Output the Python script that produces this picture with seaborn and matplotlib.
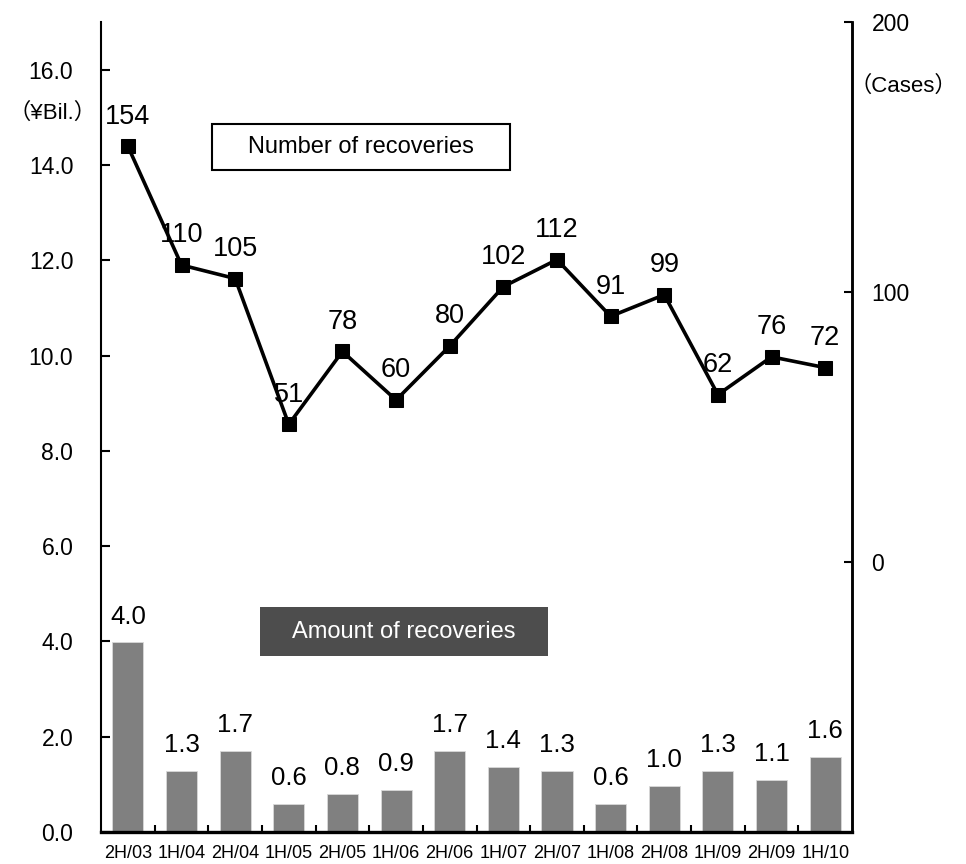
import numpy as np
import pandas as pd
import matplotlib
matplotlib.use("Agg")
import matplotlib.pyplot as plt
from matplotlib import font_manager
from matplotlib.patches import Rectangle
import seaborn as sns

# half-year periods
periods = ["2H/03", "1H/04", "2H/04", "1H/05", "2H/05", "1H/06", "2H/06",
           "1H/07", "2H/07", "1H/08", "2H/08", "1H/09", "2H/09", "1H/10"]
# amount of recoveries (¥Bil.)
amount = [3.98, 1.29, 1.70, 0.59, 0.80, 0.88, 1.70, 1.37, 1.29, 0.59, 0.96, 1.29, 1.09, 1.57]
# number of recoveries (cases)
cases = [154, 110, 105, 51, 78, 60, 80, 102, 112, 91, 99, 62, 76, 72]

left_ticks = [0, 2, 4, 6, 8, 10, 12, 14, 16]
right_ticks = [0, 100, 200]

df = pd.DataFrame({"period": periods, "amount": amount, "cases": cases})
df["pos"] = np.arange(len(df))

sns.set_style("ticks")
plt.rcParams["font.family"] = ["Liberation Sans", "Noto Sans CJK JP", "DejaVu Sans"]
plt.rcParams["text.color"] = "black"
plt.rcParams["xtick.color"] = "black"
plt.rcParams["ytick.color"] = "black"
plt.rcParams["axes.edgecolor"] = "black"

names = {f.name for f in font_manager.fontManager.ttflist}
num_font = "Liberation Sans Narrow" if "Liberation Sans Narrow" in names else "Liberation Sans"

fig = plt.figure(figsize=(9.66, 8.64), dpi=100)
ax = fig.add_axes([0.1046, 0.037, 0.7774, 0.9375])

sns.barplot(data=df, x="period", y="amount", color="#808080", saturation=1,
            width=0.58, edgecolor="#d9d9d9", linewidth=0.6, ax=ax)
ax.set_xlim(-0.5, len(periods) - 0.5)
ax.set_ylim(0, 17)
ax.set_yticks(left_ticks)
ax.set_yticklabels([f"{v:.1f}" for v in left_ticks])
ax.set_xlabel("")
ax.set_ylabel("")

# category boundary ticks
ax.set_xticks(np.arange(0.5, len(periods) - 0.5, 1), minor=True)
ax.tick_params(axis="x", which="major", length=0, pad=9, labelsize=13)
ax.tick_params(axis="x", which="minor", direction="in", length=5, width=1.5)
ax.tick_params(axis="y", direction="in", length=6.5, width=1.5, pad=20, labelsize=16.5)

for i, v in enumerate(amount):
    ax.annotate(f"{v:.1f}", (i, v), xytext=(0, 10), textcoords="offset points",
                ha="center", va="bottom", fontsize=18.5, family=num_font)

ax2 = ax.twinx()
sns.lineplot(data=df, x="pos", y="cases", color="black", linewidth=2.6,
             marker="s", markersize=10, markeredgecolor="black", ax=ax2)
ax2.set_ylim(-100, 200)
ax2.set_yticks(right_ticks)
ax2.set_ylabel("")
ax2.tick_params(axis="y", direction="in", length=6, width=1.5, pad=14, labelsize=16.5)

for i, v in enumerate(cases):
    ax2.annotate(f"{v}", (i, v), xytext=(0, 12), textcoords="offset points",
                 ha="center", va="bottom", fontsize=19.5, family=num_font)

for a in (ax, ax2):
    a.spines["top"].set_visible(False)
    a.spines["left"].set_linewidth(1.5)
    a.spines["right"].set_linewidth(1.8)
    a.spines["bottom"].set_linewidth(2.4)
ax2.spines["left"].set_visible(False)
ax2.spines["bottom"].set_visible(False)
ax.spines["right"].set_visible(True)

# caption boxes
ax2.add_patch(Rectangle((0.1478, 0.8173), 0.397, 0.0568, transform=ax2.transAxes,
                        facecolor="white", edgecolor="black", linewidth=1.5, zorder=5))
ax2.text(0.3462, 0.8457, "Number of recoveries", transform=ax2.transAxes,
         ha="center", va="center", fontsize=17, zorder=6)
ax2.add_patch(Rectangle((0.2117, 0.2173), 0.3835, 0.0605, transform=ax2.transAxes,
                        facecolor="#4d4d4d", edgecolor="none", zorder=5))
ax2.text(0.4035, 0.2475, "Amount of recoveries", transform=ax2.transAxes,
         ha="center", va="center", fontsize=17, color="white", zorder=6)

fig.text(53 / 966, 1 - 113 / 864, "（¥Bil.）", ha="center", va="center", fontsize=16)
fig.text(903 / 966, 1 - 86 / 864, "（Cases）", ha="center", va="center", fontsize=16)

fig.savefig("out.png", dpi=100)
